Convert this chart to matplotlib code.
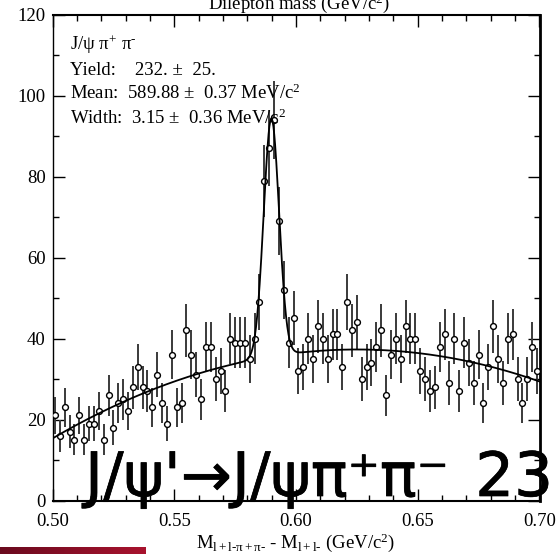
import numpy as np
import matplotlib
matplotlib.use("Agg")
import matplotlib.pyplot as plt
import matplotlib.patheffects as pe
from matplotlib.colors import LinearSegmentedColormap

# ---- data -------------------------------------------------------------
bin_lo, bin_hi, n_bins = 0.50, 0.70, 100
counts = [21, 16, 23, 17, 15, 21, 15, 19, 19, 22, 15, 26, 18, 24, 25, 22, 28, 33, 28, 27,
          23, 31, 24, 19, 36, 23, 24, 42, 36, 31, 25, 38, 38, 30, 32, 27, 40, 39, 39, 39,
          35, 40, 49, 79, 87, 94, 69, 52, 39, 45, 32, 33, 40, 35, 43, 40, 35, 41, 41, 33,
          49, 42, 44, 30, 33, 34, 38, 42, 26, 36, 40, 35, 43, 40, 40, 32, 30, 27, 28, 38,
          41, 29, 40, 27, 39, 34, 29, 36, 24, 33, 43, 35, 29, 40, 41, 30, 24, 30, 38, 32]

# fitted signal parameters (GeV)
fit_yield = 232.0
fit_mean = 0.58988
fit_width = 0.00315

# background shape sampled along the fitted curve
bg_x = [0.500, 0.539, 0.558, 0.579, 0.600, 0.620, 0.642, 0.662, 0.679, 0.700]
bg_y = [15.1, 27.1, 31.2, 34.3, 36.5, 37.1, 36.7, 35.2, 33.2, 29.6]

x_ticks = [0.50, 0.55, 0.60, 0.65, 0.70]
x_tick_labels = ["0.50", "0.55", "0.60", "0.65", "0.70"]
y_ticks = [0, 20, 40, 60, 80, 100, 120]

HY = "\u2010"  # short hyphen, so it is not typeset as a math minus
legend_lines = [
    r"J/ψ π$^{\mathrm{+}}$ π$^{\mathrm{" + HY + "}}$",
    "Yield:    232. ±  25.",
    r"Mean:  589.88 ±  0.37 MeV/c$^{\mathrm{2}}$",
    r"Width:  3.15 ±  0.36 MeV/c$^{\mathrm{2}}$",
]
x_label = (r"M$_{\mathrm{l+l" + HY + r"π+π" + HY + r"}}$ - M$_{\mathrm{l+l" + HY +
           r"}}$ (GeV/c$^{\mathrm{2}}$)")
title = r"Dilepton mass (GeV/c$^{\mathrm{2}}$)"
decay_label = "J/ψ'→J/ψπ⁺π⁻"
page_number = "23"

# ---- style ------------------------------------------------------------
plt.rcParams["font.family"] = ["Liberation Serif", "DejaVu Serif"]
plt.rcParams["mathtext.fontset"] = "custom"
plt.rcParams["mathtext.rm"] = "Liberation Serif"
plt.rcParams["mathtext.it"] = "Liberation Serif:italic"
plt.rcParams["mathtext.bf"] = "Liberation Serif:bold"
FS = 13.5

W, H = 556, 554
fig = plt.figure(figsize=(W / 100, H / 100), dpi=100)
fig.patch.set_facecolor("white")

ax_l, ax_r, ax_b, ax_t = 52.5, 539.5, 500.5, 14.5
ax = fig.add_axes([ax_l / W, (H - ax_b) / H, (ax_r - ax_l) / W, (ax_b - ax_t) / H])

edges = np.linspace(bin_lo, bin_hi, n_bins + 1)
centers = 0.5 * (edges[:-1] + edges[1:])
bw = edges[1] - edges[0]
y = np.array(counts, dtype=float)
err = np.sqrt(y)

ax.errorbar(centers, y, yerr=err, fmt="o", ms=4.2, mfc="white", mec="black",
            mew=1.0, ecolor="#3a3a3a", elinewidth=1.4, capsize=0, zorder=3)

# fit curve: gaussian signal over a quadratic background
bg_coef = np.polyfit(bg_x, bg_y, 2)
xf = np.linspace(bin_lo, bin_hi, 1200)
gauss = fit_yield * bw / (np.sqrt(2 * np.pi) * fit_width) * \
    np.exp(-0.5 * ((xf - fit_mean) / fit_width) ** 2)
ax.plot(xf, np.polyval(bg_coef, xf) + gauss, color="black", lw=1.3, zorder=4)

ax.set_xlim(bin_lo, bin_hi)
ax.set_ylim(0, 120)
ax.set_xticks(x_ticks)
ax.set_xticklabels(x_tick_labels)
ax.set_yticks(y_ticks)
ax.set_xticks(np.arange(0.50, 0.7001, 0.01), minor=True)
ax.set_yticks(np.arange(0, 121, 10), minor=True)
ax.tick_params(which="both", direction="in", top=True, right=True,
               labelsize=FS, width=1.0, color="black")
ax.tick_params(which="major", length=8.5)
ax.tick_params(which="minor", length=4.3)
ax.tick_params(axis="x", which="major", pad=9)
ax.tick_params(axis="y", which="major", pad=5)
for side, lw in (("left", 1.0), ("bottom", 1.5), ("top", 1.5), ("right", 2.0)):
    ax.spines[side].set_linewidth(lw)

ax.set_xlabel(x_label, fontsize=FS, labelpad=1)

# fit summary
for i, line in enumerate(legend_lines):
    base = 50 + 24.6 * i
    fig.text(69.5 / W, (H - base) / H, line, fontsize=FS, ha="left", va="baseline")

# histogram title sitting at the top edge
fig.text(299 / W, (H - 8.5) / H, title, fontsize=FS, ha="center", va="baseline")

# large decay label across the lower part of the plot
big = dict(family="DejaVu Sans", fontsize=44, color="black", va="baseline", zorder=10,
           path_effects=[pe.withStroke(linewidth=0.5, foreground="black")])
fig.text(85 / W, (H - 496) / H, decay_label, ha="left", **big)
fig.text(553 / W, (H - 496) / H, page_number, ha="right", **big)

# maroon strip in the lower-left corner
strip = fig.add_axes([0, 0, 146 / W, 7 / H])
grad = np.linspace(0, 1, 256).reshape(1, -1)
cmap = LinearSegmentedColormap.from_list("strip", ["#6a0a1e", "#a8132e"])
strip.imshow(grad, aspect="auto", cmap=cmap, extent=[0, 1, 0, 1])
strip.set_axis_off()

fig.savefig("out.png", dpi=100, facecolor="white")
